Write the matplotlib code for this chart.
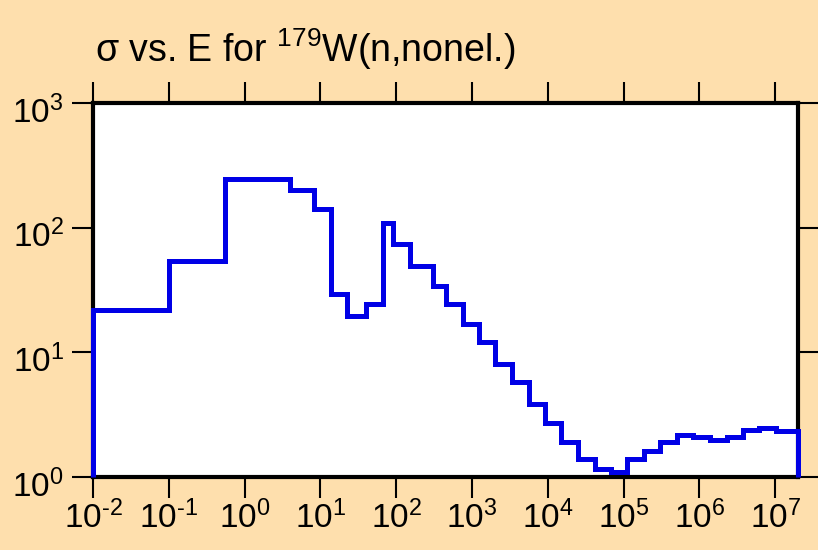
import numpy as np
import matplotlib
matplotlib.use('Agg')
import matplotlib.pyplot as plt
import matplotlib.transforms as mtransforms

plt.rcParams['font.family'] = ['Liberation Sans', 'DejaVu Sans']
plt.rcParams['mathtext.fontset'] = 'custom'
plt.rcParams['mathtext.rm'] = 'Liberation Sans'
plt.rcParams['mathtext.it'] = 'Liberation Sans'
plt.rcParams['mathtext.default'] = 'regular'

# energy group boundaries (eV) and cross section (b)
edges = [0.01, 0.1, 0.55, 4.0, 8.2, 13.7, 22.6, 40, 68, 90, 150, 305, 456, 755,
         1240, 2015, 3370, 5590, 9280, 15100, 25000, 41500, 68800, 112000,
         185000, 304000, 509000, 828000, 1.36e6, 2.28e6, 3.77e6, 6.07e6,
         1.02e7, 2e7]
sigma = [22, 54, 245, 201, 142, 29.2, 19.7, 24.5, 109, 74, 49, 33.8, 24.5,
         16.9, 12.1, 8.0, 5.75, 3.83, 2.71, 1.92, 1.40, 1.15, 1.10, 1.39,
         1.63, 1.92, 2.17, 2.10, 1.99, 2.08, 2.37, 2.49, 2.35]

xticks = [1e-2, 1e-1, 1e0, 1e1, 1e2, 1e3, 1e4, 1e5, 1e6, 1e7]
xlabels = [r'$10^{\text{-}2}$', r'$10^{\text{-}1}$', '$10^{0}$', '$10^{1}$',
           '$10^{2}$', '$10^{3}$', '$10^{4}$', '$10^{5}$', '$10^{6}$',
           '$10^{7}$']
yticks = [1, 10, 100, 1000]
ylabels = ['$10^{0}$', '$10^{1}$', '$10^{2}$', '$10^{3}$']

bg = '#fedfad'
fig = plt.figure(figsize=(8.18, 5.5), dpi=100, facecolor=bg)
ax = fig.add_axes([93/818, 1-477/550, (798-93)/818, (477-103)/550])
ax.set_facecolor('white')

ax.stairs(sigma, edges, baseline=1, color='#0000e6', lw=3.6, zorder=3,
          clip_on=False)

ax.set_xscale('log')
ax.set_yscale('log')
ax.set_xlim(1e-2, 2e7)
ax.set_ylim(1, 1000)
ax.set_xticks(xticks)
ax.set_xticklabels(xlabels)
ax.set_yticks(yticks)
ax.set_yticklabels(ylabels)
ax.minorticks_off()
ax.tick_params(direction='out', length=15, width=1.5, labelsize=24,
               top=True, right=True, pad=2)
ax.tick_params(axis='y', pad=6)
for s in ax.spines.values():
    s.set_linewidth(3)
    s.set_zorder(2.5)

# keep the mantissa of the y labels centred on the tick
shift = mtransforms.ScaledTranslation(0, -6/100, fig.dpi_scale_trans)
for lab in ax.get_yticklabels():
    lab.set_transform(lab.get_transform() + shift)

fig.text(95/818, 1-62/550, r'σ vs. E for $^{179}$W(n,nonel.)', fontsize=27)

fig.savefig('out.png', dpi=100, facecolor=bg)
